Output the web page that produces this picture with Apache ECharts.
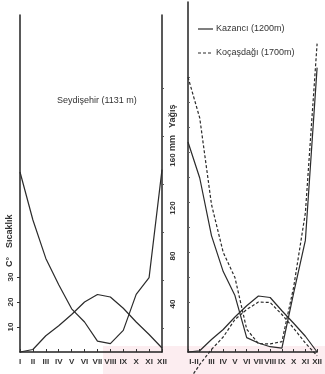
<!DOCTYPE html>
<html><head><meta charset="utf-8">
<script src="https://cdn.jsdelivr.net/npm/echarts@6/dist/echarts.min.js"></script>
<style>html,body{margin:0;padding:0;background:#fff}#c{width:325px;height:374px}</style>
</head><body><div id="c"></div>
<script>
// categories
const months = ['I','II','III','IV','V','VI','VII','VIII','IX','X','XI','XII'];
// Seydişehir (1131 m): temperature (°C) and precipitation (mm)
const seyTemp = [0, 1, 6.5, 10.5, 15, 20, 23, 22, 17.5, 12, 7, 1.6];
const seyPrec = [150, 110, 78, 56, 36, 25, 9, 7, 18, 48, 62, 152];
// Kazancı (1200 m)
const kazTemp = [0, 0.5, 5, 9, 14, 18.5, 22.4, 21.8, 16.5, 11.5, 6.3, 0];
const kazPrec = [175, 145, 97, 67, 47, 12, 7.5, 4.4, 3.3, 49, 93, 237];
// Koçaşdağı (1700 m)
const kocTemp = [-12, -5, 1, 6, 13, 17, 20, 19.8, 15, 9.5, 3.6, -1.5];
const kocPrec = [229, 195, 123, 83, 62, 19, 7, 6.7, 8.6, 54, 116, 257];
// tick labels
const tempLabels = [10, 20, 30];
const precLabels = [40, 80, 120, 160];

const INK = '#2b2b2b';
const lblFont = {fontFamily: 'Liberation Sans Narrow, Liberation Sans, sans-serif', fontSize: 8, fontWeight: 'bold', color: '#333'};
const rotFont = 'bold 9px Liberation Sans Narrow, Liberation Sans, sans-serif';

const chart = echarts.init(document.getElementById('c'), null, {renderer: 'canvas'});

function line(name, data, xi, yi, dashed) {
  return {
    type: 'line', name: name, data: data, xAxisIndex: xi, yAxisIndex: yi,
    symbol: 'none', showSymbol: false, clip: false, animation: false,
    lineStyle: {color: INK, width: 1.2, type: dashed ? [3, 2] : 'solid'},
    itemStyle: {color: INK}
  };
}
function rotText(txt, x, y) {
  return {type: 'text', x: x, y: y, rotation: Math.PI / 2,
    style: {text: txt, font: rotFont, fill: '#333', textAlign: 'left', textVerticalAlign: 'middle'}};
}

const option = {
  backgroundColor: '#ffffff',
  animation: false,
  grid: [
    {left: 20, top: 15, width: 142, height: 337},
    {left: 188, top: 2, width: 136, height: 350}
  ],
  xAxis: [
    {
      gridIndex: 0, type: 'category', data: months, boundaryGap: false,
      axisLine: {lineStyle: {color: '#222', width: 1.5}},
      axisTick: {inside: true, length: 3, interval: 0, lineStyle: {color: '#333'}},
      axisLabel: Object.assign({interval: 0, margin: 6}, lblFont),
      splitLine: {show: false}
    },
    {
      gridIndex: 1, type: 'category', data: months, boundaryGap: false,
      axisLine: {lineStyle: {color: '#222', width: 1.5}},
      axisTick: {inside: true, length: 3, interval: 0, lineStyle: {color: '#333'}},
      axisLabel: Object.assign({
        interval: 0, margin: 6,
        formatter: function (v, i) { return i === 0 ? '{a|I-II}' : (i === 1 ? '' : v); },
        rich: {a: Object.assign({padding: [0, 0, 0, 12]}, lblFont)}
      }, lblFont),
      splitLine: {show: false}
    }
  ],
  yAxis: [
    {
      gridIndex: 0, type: 'value', min: 0, max: 134.8, position: 'left',
      axisLine: {show: true, lineStyle: {color: '#222', width: 1.5}},
      axisTick: {show: true, length: 3, customValues: tempLabels, lineStyle: {color: '#333'}},
      axisLabel: Object.assign({customValues: tempLabels, rotate: 90, margin: 5}, lblFont),
      splitLine: {show: false}
    },
    {
      gridIndex: 0, type: 'value', min: 0, max: 280.83, position: 'right',
      axisLine: {show: true, lineStyle: {color: '#222', width: 1.5}},
      axisTick: {show: true, length: 2, customValues: [20,60,100,140,180,220], lineStyle: {color: '#555'}},
      axisLabel: Object.assign({customValues: precLabels, rotate: 90, margin: 7}, lblFont),
      splitLine: {show: false}
    },
    {
      gridIndex: 1, type: 'value', min: 0, max: 140, position: 'left',
      axisLine: {show: true, lineStyle: {color: '#222', width: 1.5}},
      axisTick: {show: true, inside: true, length: 2, customValues: [10,20,30,40,50,60,70,80,90,100,110], lineStyle: {color: '#666'}},
      axisLabel: {show: false},
      splitLine: {show: false}
    },
    {
      gridIndex: 1, type: 'value', min: 0, max: 291.67, position: 'right', show: false,
      splitLine: {show: false}
    }
  ],
  graphic: [
    {type: 'rect', z: -10, silent: true, shape: {x: 103, y: 346, width: 222, height: 28}, style: {fill: 'rgba(245,195,205,0.3)'}},
    {type: 'text', left: 57, top: 96, style: {text: 'Seydişehir (1131 m)', font: '9px Liberation Sans, sans-serif', fill: '#333'}},
    rotText('C°', 10, 267),
    rotText('Sıcaklık', 10, 248),
    rotText('mm', 173, 151),
    rotText('Yağış', 173, 128),
    // legend
    {type: 'line', shape: {x1: 198, y1: 29, x2: 213, y2: 29}, style: {stroke: INK, lineWidth: 1.2}},
    {type: 'text', x: 216, y: 29, style: {text: 'Kazancı (1200m)', font: '9px Liberation Sans, sans-serif', fill: '#333', textVerticalAlign: 'middle'}},
    {type: 'line', shape: {x1: 198, y1: 53, x2: 213, y2: 53}, style: {stroke: INK, lineWidth: 1.2, lineDash: [3, 2]}},
    {type: 'text', x: 216, y: 53, style: {text: 'Koçaşdağı (1700m)', font: '9px Liberation Sans, sans-serif', fill: '#333', textVerticalAlign: 'middle'}}
  ],
  series: [
    line('Seydişehir T', seyTemp, 0, 0, false),
    line('Seydişehir P', seyPrec, 0, 1, false),
    line('Kazancı (1200m)', kazTemp, 1, 2, false),
    line('Kazancı (1200m)', kazPrec, 1, 3, false),
    line('Koçaşdağı (1700m)', kocTemp, 1, 2, true),
    line('Koçaşdağı (1700m)', kocPrec, 1, 3, true)
  ]
};
chart.setOption(option);
</script>
</body></html>
